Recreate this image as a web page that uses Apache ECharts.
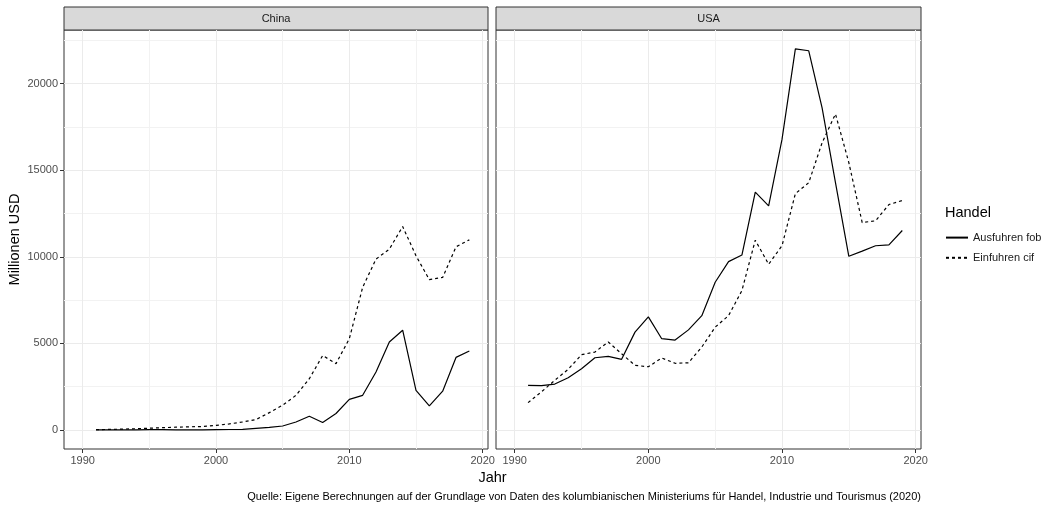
<!DOCTYPE html>
<html>
<head>
<meta charset="utf-8">
<script src="https://cdn.jsdelivr.net/npm/echarts@6/dist/echarts.min.js"></script>
<style>html,body{margin:0;padding:0;background:#fff}#c{width:1062px;height:511px}</style>
</head>
<body>
<div id="c"></div>
<script>
const years = [1991,1992,1993,1994,1995,1996,1997,1998,1999,2000,2001,2002,2003,2004,2005,2006,2007,2008,2009,2010,2011,2012,2013,2014,2015,2016,2017,2018,2019];
const chinaExports = [5,5,10,10,15,15,10,10,10,20,25,30,90,150,230,460,790,430,950,1770,2000,3350,5080,5760,2290,1390,2240,4190,4560];
const chinaImports = [20,30,50,70,100,130,160,180,200,260,350,460,600,1000,1430,2000,2960,4300,3830,5270,8240,9870,10440,11750,10060,8680,8810,10580,10980];
const usaExports = [2580,2560,2650,3020,3540,4170,4250,4080,5650,6530,5270,5190,5780,6600,8530,9720,10100,13740,12940,16780,22010,21900,18600,14280,10030,10330,10640,10690,11520];
const usaImports = [1580,2200,2870,3500,4350,4500,5080,4400,3730,3650,4160,3850,3880,4790,5940,6600,8050,10960,9570,10640,13650,14280,16590,18250,15440,11980,12080,13020,13250];
const panels = ['China', 'USA'];
const legendNames = ['Ausfuhren fob', 'Einfuhren cif'];
const xMajor = [1990, 2000, 2010, 2020];
const xMinor = [1995, 2005, 2015];
const yMajor = [0, 5000, 10000, 15000, 20000];
const yMinor = [2500, 7500, 12500, 17500, 22500];
const xRange = [1988.6, 2020.4];
const yRange = [-1100, 23100];

const pairs = (xs, ys) => xs.map((x, i) => [x, ys[i]]);
const FONT = '"Liberation Sans", Arial, sans-serif';
const grids = [
  {left: 64, top: 30, width: 424, height: 419},
  {left: 496, top: 30, width: 425, height: 419}
];
const plain = v => String(v);

const xAxes = [], yAxes = [];
grids.forEach((g, gi) => {
  xAxes.push({
    type: 'value', gridIndex: gi, min: xRange[0], max: xRange[1], position: 'bottom',
    axisLine: {show: false, onZero: false},
    axisTick: {show: true, length: 4, customValues: xMajor, lineStyle: {color: '#333333', width: 1}},
    axisLabel: {customValues: xMajor, formatter: plain, margin: 6, color: '#4d4d4d', fontSize: 11, fontFamily: FONT},
    splitLine: {show: true, lineStyle: {color: '#ebebeb', width: 1}}
  });
  xAxes.push({
    type: 'value', gridIndex: gi, min: xRange[0], max: xRange[1], position: 'bottom',
    axisLine: {show: false, onZero: false},
    axisTick: {show: false, customValues: xMinor},
    axisLabel: {show: false, customValues: xMinor},
    splitLine: {show: true, lineStyle: {color: '#f2f2f2', width: 1}}
  });
  yAxes.push({
    type: 'value', gridIndex: gi, min: yRange[0], max: yRange[1], position: 'left',
    axisLine: {show: false, onZero: false},
    axisTick: {show: gi === 0, length: 4, customValues: yMajor, lineStyle: {color: '#333333', width: 1}},
    axisLabel: {show: gi === 0, customValues: yMajor, formatter: plain, margin: 6, color: '#4d4d4d', fontSize: 11, fontFamily: FONT},
    splitLine: {show: true, lineStyle: {color: '#ebebeb', width: 1}},
    name: gi === 0 ? 'Millionen USD' : '',
    nameLocation: 'middle', nameGap: 42,
    nameTextStyle: {fontSize: 14.5, color: '#000', fontFamily: FONT}
  });
  yAxes.push({
    type: 'value', gridIndex: gi, min: yRange[0], max: yRange[1], position: 'left',
    axisLine: {show: false, onZero: false},
    axisTick: {show: false, customValues: yMinor},
    axisLabel: {show: false, customValues: yMinor},
    splitLine: {show: true, lineStyle: {color: '#f2f2f2', width: 1}}
  });
});

const lineSeries = (name, gi, data, dashed) => ({
  name, type: 'line', xAxisIndex: gi * 2, yAxisIndex: gi * 2,
  data, symbol: 'none', showSymbol: false, silent: true, animation: false,
  lineStyle: {color: '#000', width: 1.2, type: dashed ? [3, 3] : 'solid'},
  itemStyle: {color: '#000'}, z: 5
});

const graphics = [];
grids.forEach((g, gi) => {
  graphics.push({
    type: 'rect', shape: {x: g.left, y: 7, width: g.width, height: 23},
    style: {fill: '#d9d9d9', stroke: '#333333', lineWidth: 1}
  });
  graphics.push({
    type: 'text', x: g.left + g.width / 2, y: 18.5,
    style: {text: panels[gi], fill: '#1a1a1a', font: '11px ' + FONT, textAlign: 'center', textVerticalAlign: 'middle'}
  });
});
graphics.push({
  type: 'text', x: (grids[0].left + grids[1].left + grids[1].width) / 2, y: 478,
  style: {text: 'Jahr', fill: '#000', font: '14.5px ' + FONT, textAlign: 'center', textVerticalAlign: 'middle'}
});
graphics.push({
  type: 'text', x: grids[1].left + grids[1].width, y: 497,
  style: {text: 'Quelle: Eigene Berechnungen auf der Grundlage von Daten des kolumbianischen Ministeriums für Handel, Industrie und Tourismus (2020)', fill: '#000', font: '11px ' + FONT, textAlign: 'right', textVerticalAlign: 'middle'}
});
graphics.push({
  type: 'text', x: 945, y: 213,
  style: {text: 'Handel', fill: '#000', font: '14.5px ' + FONT, textAlign: 'left', textVerticalAlign: 'middle'}
});

const chart = echarts.init(document.getElementById('c'), null, {renderer: 'canvas'});
chart.setOption({
  animation: false,
  backgroundColor: '#ffffff',
  grid: grids.map(g => Object.assign({show: true, borderColor: '#333333', borderWidth: 1, backgroundColor: '#fff', containLabel: false}, g)),
  xAxis: xAxes,
  yAxis: yAxes,
  legend: {
    data: legendNames, orient: 'vertical', left: 945, top: 232, padding: 0,
    itemWidth: 22, itemHeight: 14, itemGap: 9,
    itemStyle: {opacity: 0},
    textStyle: {fontSize: 11, color: '#1a1a1a', fontFamily: FONT},
    selectedMode: false
  },
  series: [
    lineSeries(legendNames[0], 0, pairs(years, chinaExports), false),
    lineSeries(legendNames[1], 0, pairs(years, chinaImports), true),
    lineSeries(legendNames[0], 1, pairs(years, usaExports), false),
    lineSeries(legendNames[1], 1, pairs(years, usaImports), true)
  ],
  graphic: graphics
});
</script>
</body>
</html>
